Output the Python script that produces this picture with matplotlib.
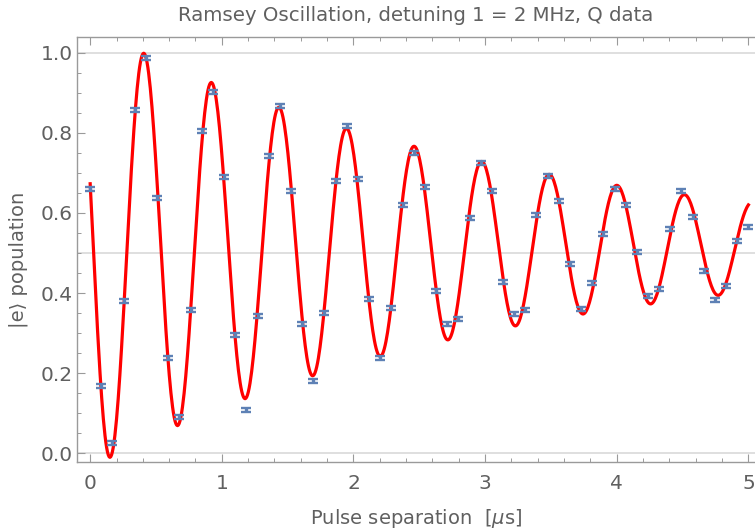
import matplotlib
matplotlib.use('Agg')
import matplotlib.pyplot as plt
import numpy as np
from matplotlib.ticker import MultipleLocator

# Measured Q-channel excited state population vs pulse separation
pulse_sep_us = np.linspace(0.0, 5.0, 60)
population = [
    0.660, 0.168, 0.026, 0.379, 0.857, 0.988, 0.638, 0.238, 0.090, 0.357,
    0.805, 0.901, 0.689, 0.295, 0.107, 0.344, 0.742, 0.867, 0.655, 0.323,
    0.180, 0.351, 0.679, 0.816, 0.684, 0.384, 0.237, 0.363, 0.621, 0.751,
    0.665, 0.405, 0.322, 0.336, 0.587, 0.725, 0.654, 0.428, 0.348, 0.359,
    0.596, 0.693, 0.631, 0.473, 0.361, 0.426, 0.548, 0.659, 0.621, 0.502,
    0.392, 0.409, 0.560, 0.654, 0.589, 0.454, 0.383, 0.418, 0.529, 0.565,
]
pop_err = 0.005

# Damped cosine fit parameters
fit_amp = 0.551
fit_t2 = 3.14
fit_freq = 1.948
fit_phase = 1.28
fit_offset = 0.515

title = 'Ramsey Oscillation, detuning 1 = 2 MHz, Q data'
xlabel = 'Pulse separation  [$\\mu$s]'
ylabel = '|e\u27e9 population'

text_gray = '#606060'
axis_gray = '#9a9a9a'
point_blue = '#5e81b5'


def fit_curve(t):
    return fit_offset + fit_amp * np.exp(-t / fit_t2) * np.cos(
        2 * np.pi * fit_freq * t + fit_phase)


plt.rcParams['font.family'] = ['DejaVu Sans']

fig = plt.figure(figsize=(7.55, 5.31), dpi=100)
ax = fig.add_axes([0.102, 0.130, 0.898, 0.800])

for y in (0.0, 0.5, 1.0):
    ax.axhline(y, color='#d9d9d9', lw=1.2, zorder=0)

t_fine = np.linspace(0.0, 5.0, 800)
ax.plot(t_fine, fit_curve(t_fine), color='#ff0000', lw=2.3, zorder=2)

ax.errorbar(pulse_sep_us, population, yerr=pop_err, fmt='none',
            ecolor=point_blue, elinewidth=2.4, capsize=3.4, capthick=1.7,
            zorder=3)

ax.set_xlim(-0.1, 5.05)
ax.set_ylim(-0.0217, 1.039)

ax.xaxis.set_major_locator(MultipleLocator(1))
ax.xaxis.set_minor_locator(MultipleLocator(0.2))
ax.yaxis.set_major_locator(MultipleLocator(0.2))
ax.yaxis.set_minor_locator(MultipleLocator(0.05))
ax.yaxis.set_major_formatter(plt.FormatStrFormatter('%.1f'))

ax.tick_params(which='both', direction='in', top=True, right=False,
               color=axis_gray, labelcolor=text_gray, labelsize=14.5)
ax.tick_params(which='major', length=5.5, width=0.8)
ax.tick_params(which='minor', length=3.2, width=0.7)
ax.tick_params(axis='x', pad=8.5)
ax.tick_params(axis='y', pad=3)

for side in ('left', 'bottom', 'top'):
    ax.spines[side].set_color(axis_gray)
    ax.spines[side].set_linewidth(1.0)
ax.spines['right'].set_visible(False)

ax.set_title(title, color=text_gray, fontsize=14.2, pad=12)
ax.set_xlabel(xlabel, color=text_gray, fontsize=14, labelpad=10)
ax.set_ylabel(ylabel, color=text_gray, fontsize=14, labelpad=9)
ax.yaxis.label.set_y(0.475)

fig.savefig('out.png', dpi=100)
